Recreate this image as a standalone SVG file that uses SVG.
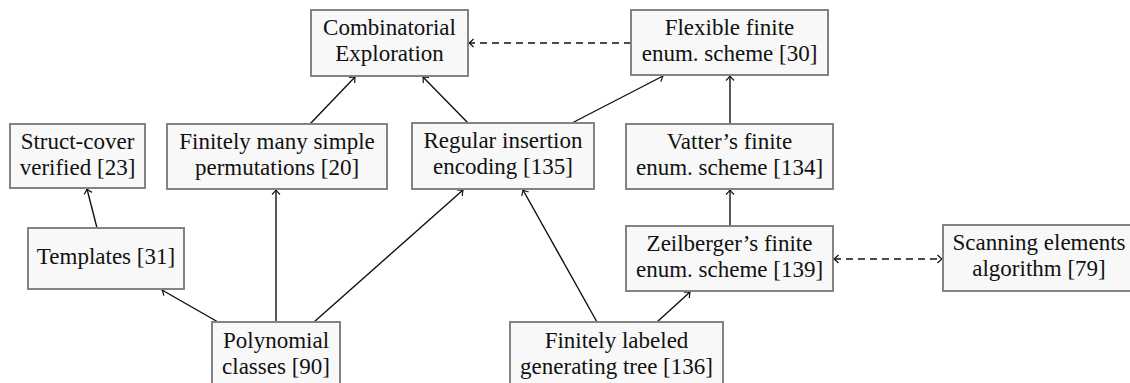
<svg xmlns="http://www.w3.org/2000/svg" width="1130" height="383" viewBox="0 0 1130 383">
<style>
.box{fill:#f8f8f8;stroke:#838383;stroke-width:2}
.t{font-family:"Liberation Serif","DejaVu Serif",serif;font-size:23px;fill:#111;text-anchor:middle}
.e{stroke:#111;stroke-width:1.4;fill:none;marker-end:url(#ah)}
.d{stroke:#111;stroke-width:1.4;fill:none;stroke-dasharray:7 5;marker-end:url(#ah)}
.both{marker-start:url(#ah)}
</style>
<defs>
<marker id="ah" markerUnits="userSpaceOnUse" viewBox="-6 -5 8 10" refX="0" refY="0" markerWidth="8" markerHeight="10" orient="auto-start-reverse">
<path d="M -4.5 -4 Q -1.5 -1 0 0 Q -1.5 1 -4.5 4" stroke="#111" stroke-width="1.2" fill="none"/>
</marker>
</defs>
<g id="connectors">
<line class="e" x1="310" y1="124" x2="355" y2="77"/>
<line class="e" x1="468" y1="123" x2="423" y2="77"/>
<line class="e" x1="572" y1="123" x2="663" y2="76"/>
<line class="e" x1="730" y1="124" x2="730" y2="76"/>
<line class="e" x1="730" y1="226" x2="730" y2="190"/>
<line class="d" x1="631" y1="43" x2="469" y2="43"/>
<line class="d both" x1="834" y1="259" x2="942" y2="259"/>
<line class="e" x1="97" y1="228" x2="87" y2="189"/>
<line class="e" x1="218" y1="322" x2="162" y2="290"/>
<line class="e" x1="276" y1="322" x2="276" y2="190"/>
<line class="e" x1="314" y1="322" x2="463" y2="190"/>
<line class="e" x1="597" y1="322" x2="523" y2="190"/>
<line class="e" x1="657" y1="322" x2="690" y2="292"/>
</g>
<g id="struct-cover">
<rect class="box" x="10" y="124" width="135" height="64"/>
<text class="t" x="77.5" y="149">Struct-cover</text>
<text class="t" x="77.5" y="175">verified [23]</text>
</g>
<g id="templates">
<rect class="box" x="28" y="228" width="156" height="61"/>
<text class="t" x="106" y="264">Templates [31]</text>
</g>
<g id="finitely-simple">
<rect class="box" x="167" y="124" width="220" height="65"/>
<text class="t" x="277" y="149">Finitely many simple</text>
<text class="t" x="277" y="175">permutations [20]</text>
</g>
<g id="polynomial">
<rect class="box" x="212" y="322" width="128" height="66"/>
<text class="t" x="276" y="348">Polynomial</text>
<text class="t" x="276" y="374">classes [90]</text>
</g>
<g id="combinatorial">
<rect class="box" x="311" y="10" width="157" height="66"/>
<text class="t" x="389.5" y="35">Combinatorial</text>
<text class="t" x="389.5" y="61">Exploration</text>
</g>
<g id="regular-insertion">
<rect class="box" x="412" y="123" width="182" height="66"/>
<text class="t" x="503" y="148">Regular insertion</text>
<text class="t" x="503" y="174">encoding [135]</text>
</g>
<g id="flexible">
<rect class="box" x="631" y="10" width="197" height="65"/>
<text class="t" x="729.5" y="35">Flexible finite</text>
<text class="t" x="729.5" y="61">enum. scheme [30]</text>
</g>
<g id="vatter">
<rect class="box" x="626" y="124" width="207" height="65"/>
<text class="t" x="729.5" y="149">Vatter’s finite</text>
<text class="t" x="729.5" y="175">enum. scheme [134]</text>
</g>
<g id="zeilberger">
<rect class="box" x="626" y="226" width="207" height="65"/>
<text class="t" x="729.5" y="251">Zeilberger’s finite</text>
<text class="t" x="729.5" y="277">enum. scheme [139]</text>
</g>
<g id="finitely-labeled">
<rect class="box" x="510" y="322" width="213" height="66"/>
<text class="t" x="616.5" y="348">Finitely labeled</text>
<text class="t" x="616.5" y="374">generating tree [136]</text>
</g>
<g id="scanning">
<rect class="box" x="943" y="225" width="192" height="66"/>
<text class="t" x="1039" y="250">Scanning elements</text>
<text class="t" x="1039" y="276">algorithm [79]</text>
</g>
</svg>
